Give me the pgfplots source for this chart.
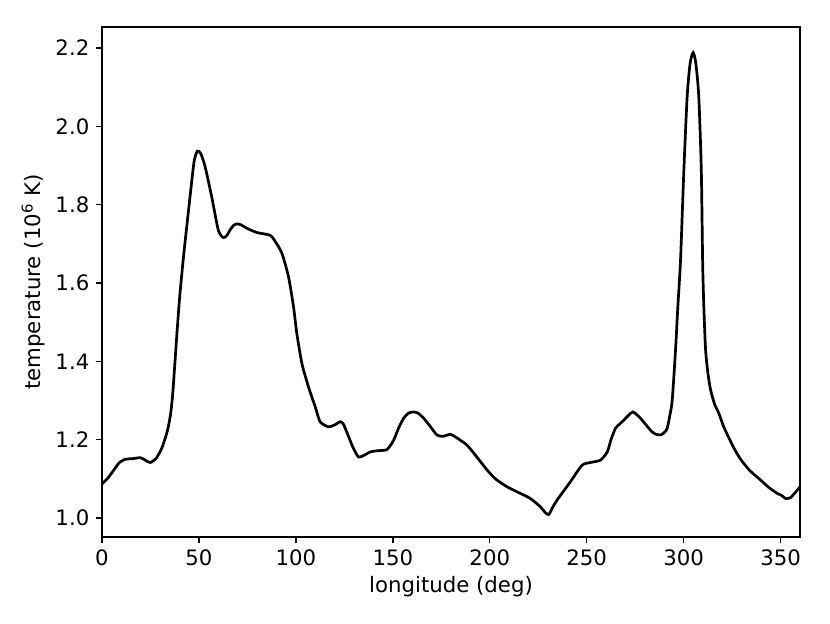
\documentclass[border=0pt]{standalone}
\usepackage{fontspec}
\setmainfont{DejaVu Sans}
\usepackage{pgfplots}
\pgfplotsset{compat=1.18}
\begin{document}
\begin{tikzpicture}
\useasboundingbox (-56.6pt,-47.7pt) rectangle (404.05pt,298.1pt);
\begin{axis}[
  at={(0,0)}, anchor=south west,
  scale only axis, width=387.4pt, height=283.1pt,
  xmin=0, xmax=360, ymin=0.9515, ymax=2.2536,
  xtick={0,50,100,150,200,250,300,350},
  ytick={1.0,1.2,1.4,1.6,1.8,2.0,2.2},
  yticklabel style={/pgf/number format/.cd, fixed, fixed zerofill, precision=1},
  /pgf/number format/assume math mode=true,
  tick align=outside, xtick pos=bottom, ytick pos=left,
  major tick length=3.5pt,
  every tick/.style={black, line width=0.8pt},
  axis line style={line width=0.8pt},
  tick label style={font=\fontsize{11.8}{14}\selectfont},
  label style={font=\fontsize{11.8}{14}\selectfont},
  xlabel={longitude (deg)},
  ylabel={temperature (10\textsuperscript{6} K)},
  xlabel style={yshift=1pt},
  ylabel style={yshift=-1pt},
]
\addplot[black, line width=1.5pt, smooth, tension=0.4] coordinates {
(0,1.087) (3,1.102) (6,1.122) (9,1.142) (12,1.150) (16,1.152) (20,1.154) (23,1.146) (25,1.142)
(28,1.153) (30.8,1.178) (33,1.21) (34.3,1.235) (35.5,1.27) (36.5,1.318) (37.7,1.403) (38.9,1.488)
(40,1.56) (42,1.665) (45.4,1.82) (47.5,1.91) (49.2,1.937) (51,1.93) (53.2,1.897) (56.6,1.82) (60,1.735) (62.6,1.716)
(64.5,1.722) (66,1.735) (68,1.748) (69.9,1.751) (72,1.748) (74.7,1.740) (79.9,1.729) (86.7,1.722)
(89.5,1.705) (92.8,1.676) (96.2,1.616) (98.8,1.539) (100.5,1.471) (103.1,1.395) (106.5,1.335) (110,1.284)
(112.5,1.246) (116.8,1.233) (120,1.238) (122.9,1.246) (124.5,1.240) (127.2,1.208) (129.5,1.18) (132.3,1.156) (135,1.160)
(138.4,1.169) (142,1.172) (147,1.175) (150.4,1.199) (153,1.23) (155.6,1.255) (158,1.268) (160.7,1.271)
(163,1.268) (165.9,1.255) (169,1.236) (172.8,1.212) (176,1.209) (179.7,1.214) (183,1.205) (188.3,1.186)
(193,1.158) (198.6,1.123) (203,1.10) (208.9,1.08) (215.8,1.063) (221,1.050) (226.1,1.029) (228.5,1.015)
(230.4,1.009) (232.5,1.028) (234.7,1.046) (241.6,1.093) (247.6,1.135) (252,1.142) (257.1,1.148)
(260.6,1.169) (262.5,1.20) (264.8,1.229) (267,1.24) (269.1,1.25) (271.5,1.262) (273.9,1.271)
(277.7,1.255) (283.7,1.22) (286.5,1.213) (288.5,1.213) (290.3,1.220) (291.5,1.229) (292.8,1.26)
(294.1,1.301) (295.8,1.429) (297,1.54) (298.4,1.66) (300.1,1.888) (301.8,2.076) (303.3,2.16)
(304.9,2.188) (306.3,2.16) (307.8,2.076) (309.1,1.888) (309.8,1.65) (310.4,1.54) (311.3,1.43)
(312.5,1.37) (313.9,1.327) (316,1.29) (318.2,1.267) (320.5,1.235) (323.3,1.205) (326,1.178) (329.4,1.150) (334,1.122)
(339.7,1.097) (344,1.078) (348.3,1.063) (350.5,1.058) (352.6,1.050) (355,1.052) (357.5,1.065) (360,1.08)
};
\end{axis}
\end{tikzpicture}
\end{document}
